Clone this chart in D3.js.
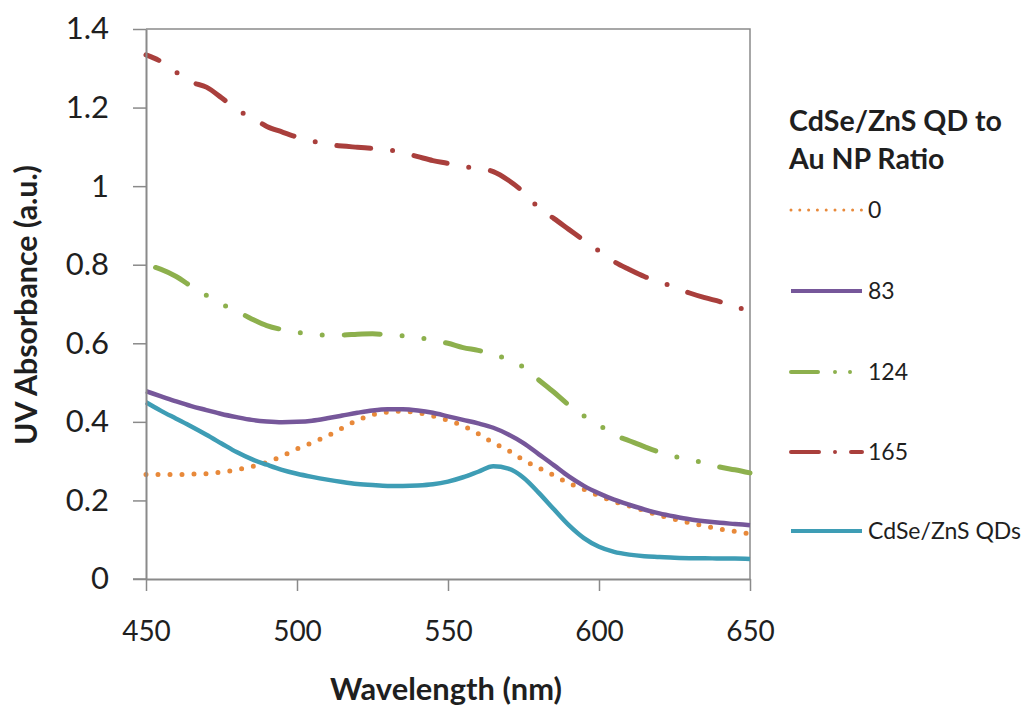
<!DOCTYPE html>
<html>
<head>
<meta charset="utf-8">
<script src="https://cdn.jsdelivr.net/npm/d3@7"></script>
<style>
  html, body { margin: 0; padding: 0; background: #fff; }
  svg { display: block; font-family: Lato, "Open Sans", sans-serif; }
</style>
</head>
<body>
<svg id="chart" width="1028" height="707"></svg>
<script>
// Wavelength grid (nm)
const wavelengths = [450,455,460,465,470,475,480,485,490,495,500,505,510,515,520,525,530,535,540,545,550,
                     555,560,565,570,575,580,585,590,595,600,605,610,615,620,625,630,635,640,645,650];

// Absorbance for each QD : Au NP ratio
const ratio0 = [0.266,0.266,0.266,0.267,0.268,0.272,0.278,0.286,0.297,0.313,0.331,0.347,0.364,0.384,0.404,0.418,0.425,0.427,0.423,0.415,0.404,
                0.390,0.370,0.347,0.327,0.303,0.283,0.264,0.244,0.228,0.212,0.197,0.186,0.174,0.162,0.152,0.143,0.135,0.127,0.121,0.115];
const ratio83 = [0.478,0.465,0.452,0.440,0.430,0.420,0.412,0.405,0.401,0.399,0.400,0.403,0.409,0.416,0.423,0.429,0.432,0.432,0.429,0.423,0.414,
                 0.405,0.396,0.385,0.368,0.346,0.318,0.290,0.261,0.237,0.218,0.202,0.189,0.177,0.167,0.159,0.152,0.147,0.143,0.140,0.137];
const ratio124 = [0.800,0.788,0.770,0.745,0.722,0.700,0.682,0.662,0.645,0.635,0.628,0.623,0.621,0.621,0.623,0.624,0.622,0.619,0.615,0.608,0.600,
                  0.589,0.582,0.572,0.558,0.539,0.507,0.476,0.443,0.415,0.392,0.367,0.352,0.337,0.323,0.312,0.304,0.295,0.285,0.278,0.270];
const ratio165 = [1.334,1.317,1.290,1.265,1.252,1.225,1.195,1.175,1.152,1.138,1.125,1.115,1.106,1.102,1.099,1.096,1.093,1.085,1.075,1.065,1.058,
                  1.050,1.045,1.037,1.015,0.985,0.945,0.918,0.890,0.862,0.835,0.808,0.788,0.770,0.757,0.742,0.728,0.716,0.706,0.694,0.680];
const qdsOnly = [0.450,0.428,0.408,0.388,0.367,0.345,0.323,0.305,0.291,0.278,0.268,0.260,0.253,0.247,0.242,0.239,0.237,0.237,0.238,0.241,0.248,
                 0.259,0.273,0.287,0.281,0.258,0.220,0.178,0.137,0.104,0.082,0.069,0.062,0.058,0.056,0.054,0.053,0.053,0.052,0.052,0.051];

const seriesNames = ["0", "83", "124", "165", "CdSe/ZnS QDs"];
const xTicks = [450, 500, 550, 600, 650];
const yTicks = [0, 0.2, 0.4, 0.6, 0.8, 1, 1.2, 1.4];

// Line styles per series
const styles = [
  { color: "#E8893A", width: 5,   dash: "0 12",            offset: 0,  cap: "round", legendDash: "0 8.8", legendWidth: 3 },
  { color: "#76579A", width: 4.5, dash: null,              offset: 0,  cap: "butt",  legendDash: null,    legendWidth: 4 },
  { color: "#8DB04D", width: 5,   dash: "36 22 0 22 0 22", offset: 92, cap: "round", legendDash: "27 17 0 15 0 15", legendWidth: 4 },
  { color: "#A93F3C", width: 5,   dash: "34 22 0 22",      offset: 20, cap: "round", legendDash: "28 16 0 16",      legendWidth: 4 },
  { color: "#3E9DB5", width: 4.5, dash: null,              offset: 0,  cap: "butt",  legendDash: null,    legendWidth: 4 }
];

const seriesValues = [ratio0, ratio83, ratio124, ratio165, qdsOnly];
// Draw order: back to front
const drawOrder = [3, 2, 0, 1, 4];

const svg = d3.select("#chart");
const x = d3.scaleLinear().domain([450, 650]).range([146, 750]);
const y = d3.scaleLinear().domain([0, 1.4]).range([579, 29]);

const axisColor = "#8a8a8a";
const textColor = "#1f1f1f";

// Plot frame (top and right edges)
svg.append("path")
  .attr("d", `M${x(450)},${y(1.4)}H${x(650)}V${y(0)}`)
  .attr("fill", "none").attr("stroke", axisColor).attr("stroke-width", 1.5);

// Series lines
const line = d3.line()
  .x((d, i) => x(wavelengths[i]))
  .y(d => y(d))
  .curve(d3.curveMonotoneX);

const plot = svg.append("g");
drawOrder.forEach(k => {
  const s = styles[k];
  plot.append("path")
    .datum(seriesValues[k])
    .attr("d", line)
    .attr("fill", "none")
    .attr("stroke", s.color)
    .attr("stroke-width", s.width)
    .attr("stroke-linecap", s.cap)
    .attr("stroke-linejoin", "round")
    .attr("stroke-dasharray", s.dash)
    .attr("stroke-dashoffset", s.offset);
});

// Y axis
const yAxis = svg.append("g")
  .attr("transform", `translate(${x(450)},0)`)
  .call(d3.axisLeft(y).tickValues(yTicks).tickFormat(d3.format("~g")).tickSize(13).tickSizeOuter(0).tickPadding(24));
yAxis.select(".domain").attr("stroke", axisColor).attr("stroke-width", 2);
yAxis.selectAll(".tick line").attr("stroke", axisColor).attr("stroke-width", 1.5);
yAxis.selectAll(".tick text")
  .attr("font-size", 31).attr("fill", textColor)
  .attr("font-family", "Lato, sans-serif");

// X axis
const xAxis = svg.append("g")
  .attr("transform", `translate(0,${y(0)})`)
  .call(d3.axisBottom(x).tickValues(xTicks).tickSize(12).tickSizeOuter(0).tickPadding(30));
xAxis.select(".domain").attr("stroke", axisColor).attr("stroke-width", 2);
xAxis.selectAll(".tick line").attr("stroke", axisColor).attr("stroke-width", 1.5);
xAxis.selectAll(".tick text")
  .attr("font-size", 28).attr("fill", textColor)
  .attr("font-family", "Lato, sans-serif");
// Left overhang of the baseline, matching the y tick length
svg.append("line")
  .attr("x1", x(450) - 13).attr("x2", x(450))
  .attr("y1", y(0)).attr("y2", y(0))
  .attr("stroke", axisColor).attr("stroke-width", 1.5);

// Scale a text element so it spans the given width
function fitWidth(sel, width) {
  const w = sel.node().getComputedTextLength();
  const fs = +sel.attr("font-size");
  sel.attr("font-size", fs * width / w);
}

// Axis titles
const xTitle = svg.append("text")
  .attr("x", 446).attr("y", 700)
  .attr("text-anchor", "middle")
  .attr("font-weight", "bold").attr("font-size", 26).attr("fill", textColor)
  .text("Wavelength (nm)");
fitWidth(xTitle, 232);

const yTitle = svg.append("text")
  .attr("transform", "translate(37,305) rotate(-90)")
  .attr("text-anchor", "middle")
  .attr("font-weight", "bold").attr("font-size", 26).attr("fill", textColor)
  .text("UV Absorbance (a.u.)");
fitWidth(yTitle, 280);

// Legend
const legend = svg.append("g");
const t1 = legend.append("text")
  .attr("x", 789).attr("y", 131)
  .attr("font-weight", "bold").attr("font-size", 28).attr("fill", textColor)
  .text("CdSe/ZnS QD to");
fitWidth(t1, 213);
legend.append("text")
  .attr("x", 789).attr("y", 169)
  .attr("font-weight", "bold").attr("font-size", t1.attr("font-size")).attr("fill", textColor)
  .text("Au NP Ratio");

const legendY = [210, 291, 372, 452, 531];
seriesNames.forEach((name, k) => {
  const s = styles[k];
  const g = legend.append("g").attr("transform", `translate(0,${legendY[k]})`);
  g.append("line")
    .attr("x1", 791).attr("x2", 862).attr("y1", 0).attr("y2", 0)
    .attr("stroke", s.color)
    .attr("stroke-width", s.legendWidth)
    .attr("stroke-linecap", s.cap)
    .attr("stroke-dasharray", s.legendDash);
  g.append("text")
    .attr("x", 868).attr("y", 0).attr("dy", "0.36em")
    .attr("font-size", 23).attr("fill", textColor)
    .text(name);
});
</script>
</body>
</html>
